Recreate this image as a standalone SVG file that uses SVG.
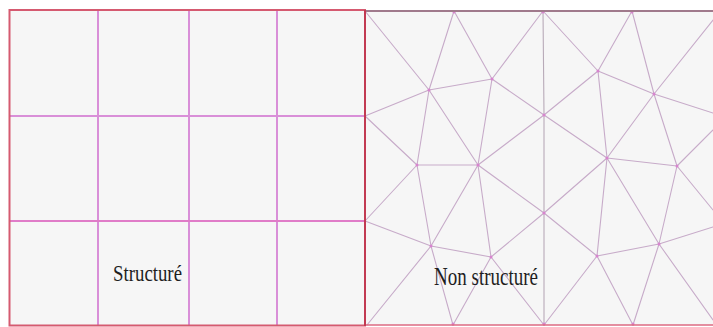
<svg xmlns="http://www.w3.org/2000/svg" width="713" height="327" viewBox="0 0 713 327">
<style>
.panel{fill:#f6f6f6}
.grid{stroke:#d98fd8;stroke-width:2;fill:none}
.mesh{stroke:#c7abc9;stroke-width:1.1;fill:none;stroke-linecap:round}
.node{fill:#d884cf}
.lbl{font-family:"Liberation Serif","Times New Roman",serif;fill:#1e1e1e}
</style>
<rect x="0" y="0" width="713" height="327" fill="#ffffff"/>
<g id="panel-structure">
  <rect class="panel" x="10" y="10" width="355" height="316"/>
  <g class="grid">
    <line x1="98" y1="10" x2="98" y2="326"/>
    <line x1="189" y1="10" x2="189" y2="326"/>
    <line x1="277" y1="10" x2="277" y2="326"/>
    <line x1="10" y1="116" x2="365" y2="116"/>
    <line x1="10" y1="221" x2="365" y2="221" stroke="#e07cc8"/>
  </g>
  <rect x="9.5" y="10" width="355.5" height="315.5" fill="none" stroke="#d55a70" stroke-width="2"/>
  <text class="lbl" x="113" y="281" font-size="23" textLength="69" lengthAdjust="spacingAndGlyphs">Structuré</text>
</g>
<g id="panel-non-structure">
  <rect class="panel" x="365" y="11" width="348" height="314"/>
  <g id="connectors" class="mesh">
    <line x1="365" y1="11" x2="429" y2="90"/>
    <line x1="454" y1="11" x2="429" y2="90"/>
    <line x1="454" y1="11" x2="492" y2="79"/>
    <line x1="492" y1="79" x2="543" y2="11"/>
    <line x1="429" y1="90" x2="492" y2="79"/>
    <line x1="429" y1="90" x2="365" y2="116"/>
    <line x1="492" y1="79" x2="544" y2="115"/>
    <line x1="365" y1="116" x2="417" y2="165"/>
    <line x1="429" y1="90" x2="417" y2="165"/>
    <line x1="429" y1="90" x2="478" y2="165"/>
    <line x1="492" y1="79" x2="478" y2="165"/>
    <line x1="417" y1="165" x2="478" y2="165"/>
    <line x1="478" y1="165" x2="544" y2="115"/>
    <line x1="543" y1="11" x2="598" y2="71"/>
    <line x1="598" y1="71" x2="632" y2="11"/>
    <line x1="632" y1="11" x2="654" y2="94"/>
    <line x1="654" y1="94" x2="713" y2="20"/>
    <line x1="598" y1="71" x2="654" y2="94"/>
    <line x1="654" y1="94" x2="713" y2="113"/>
    <line x1="598" y1="71" x2="544" y2="115"/>
    <line x1="598" y1="71" x2="607" y2="158"/>
    <line x1="544" y1="115" x2="607" y2="158"/>
    <line x1="654" y1="94" x2="607" y2="158"/>
    <line x1="654" y1="94" x2="677" y2="166"/>
    <line x1="607" y1="158" x2="677" y2="166"/>
    <line x1="677" y1="166" x2="713" y2="130"/>
    <line x1="677" y1="166" x2="713" y2="210"/>
    <polyline points="543,11 544,115 544,213 544,325" stroke="#b8aab8"/>
    <line x1="607" y1="158" x2="544" y2="213"/>
    <line x1="607" y1="158" x2="597" y2="256"/>
    <line x1="607" y1="158" x2="659" y2="244"/>
    <line x1="677" y1="166" x2="659" y2="244"/>
    <line x1="597" y1="256" x2="659" y2="244"/>
    <line x1="659" y1="244" x2="713" y2="227"/>
    <line x1="597" y1="256" x2="544" y2="325"/>
    <line x1="597" y1="256" x2="633" y2="325"/>
    <line x1="659" y1="244" x2="633" y2="325"/>
    <line x1="659" y1="244" x2="713" y2="320"/>
    <line x1="544" y1="213" x2="597" y2="256"/>
    <line x1="417" y1="165" x2="365" y2="221"/>
    <line x1="417" y1="165" x2="431" y2="246"/>
    <line x1="478" y1="165" x2="431" y2="246"/>
    <line x1="478" y1="165" x2="491" y2="257"/>
    <line x1="478" y1="165" x2="544" y2="213"/>
    <line x1="365" y1="221" x2="431" y2="246"/>
    <line x1="431" y1="246" x2="491" y2="257"/>
    <line x1="491" y1="257" x2="544" y2="213"/>
    <line x1="431" y1="246" x2="367" y2="325"/>
    <line x1="431" y1="246" x2="453" y2="325"/>
    <line x1="491" y1="257" x2="453" y2="325"/>
    <line x1="491" y1="257" x2="544" y2="325"/>
  </g>
  <g id="mesh-nodes" class="node">
    <circle cx="429" cy="90" r="1.5"/>
    <circle cx="492" cy="79" r="1.5"/>
    <circle cx="544" cy="115" r="1.5"/>
    <circle cx="598" cy="71" r="1.5"/>
    <circle cx="654" cy="94" r="1.5"/>
    <circle cx="417" cy="165" r="1.5"/>
    <circle cx="478" cy="165" r="1.5"/>
    <circle cx="607" cy="158" r="1.5"/>
    <circle cx="677" cy="166" r="1.5"/>
    <circle cx="544" cy="213" r="1.5"/>
    <circle cx="431" cy="246" r="1.5"/>
    <circle cx="491" cy="257" r="1.5"/>
    <circle cx="597" cy="256" r="1.5"/>
    <circle cx="659" cy="244" r="1.5"/>
    <circle cx="454" cy="12" r="1.5"/>
    <circle cx="543" cy="12" r="1.5"/>
    <circle cx="632" cy="12" r="1.5"/>
    <circle cx="453" cy="324" r="1.5"/>
    <circle cx="544" cy="324" r="1.5"/>
    <circle cx="633" cy="324" r="1.5"/>
  </g>
  <line x1="365" y1="11" x2="713" y2="11" stroke="#a07a8c" stroke-width="2"/>
  <line x1="365" y1="325" x2="713" y2="325" stroke="#dd6a82" stroke-width="1.6"/>
  <line x1="365" y1="10" x2="365" y2="326" stroke="#c23a52" stroke-width="2"/>
  <text class="lbl" x="434" y="285" font-size="26" textLength="104" lengthAdjust="spacingAndGlyphs">Non structuré</text>
</g>
</svg>
